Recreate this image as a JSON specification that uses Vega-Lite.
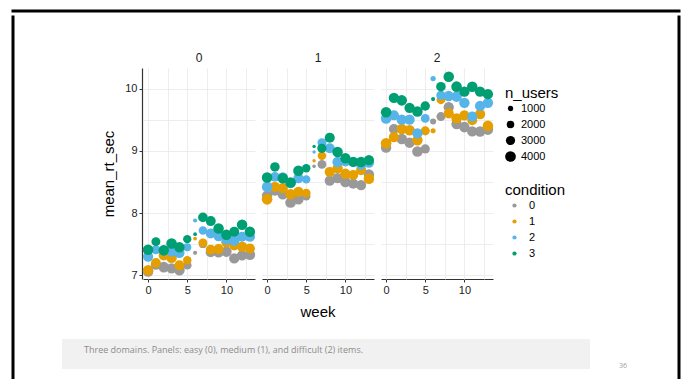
{
  "$schema": "https://vega.github.io/schema/vega-lite/v6.json",
  "background": "white",
  "padding": {"left": 10, "top": 8, "right": 0, "bottom": 0},
  "datasets": {
    "rt": [
      {"domain":"0","condition":"0","week":0,"mean_rt_sec":7.06,"n_users":3900},
      {"domain":"0","condition":"0","week":1,"mean_rt_sec":7.17,"n_users":3700},
      {"domain":"0","condition":"0","week":2,"mean_rt_sec":7.13,"n_users":4000},
      {"domain":"0","condition":"0","week":3,"mean_rt_sec":7.11,"n_users":3800},
      {"domain":"0","condition":"0","week":4,"mean_rt_sec":7.08,"n_users":3900},
      {"domain":"0","condition":"0","week":5,"mean_rt_sec":7.16,"n_users":2600},
      {"domain":"0","condition":"0","week":6,"mean_rt_sec":7.36,"n_users":600},
      {"domain":"0","condition":"0","week":7,"mean_rt_sec":7.50,"n_users":2200},
      {"domain":"0","condition":"0","week":8,"mean_rt_sec":7.37,"n_users":3600},
      {"domain":"0","condition":"0","week":9,"mean_rt_sec":7.37,"n_users":3800},
      {"domain":"0","condition":"0","week":10,"mean_rt_sec":7.38,"n_users":3900},
      {"domain":"0","condition":"0","week":11,"mean_rt_sec":7.27,"n_users":3700},
      {"domain":"0","condition":"0","week":12,"mean_rt_sec":7.32,"n_users":3800},
      {"domain":"0","condition":"0","week":13,"mean_rt_sec":7.33,"n_users":3900},
      {"domain":"0","condition":"1","week":0,"mean_rt_sec":7.08,"n_users":3800},
      {"domain":"0","condition":"1","week":1,"mean_rt_sec":7.20,"n_users":3300},
      {"domain":"0","condition":"1","week":2,"mean_rt_sec":7.32,"n_users":3600},
      {"domain":"0","condition":"1","week":3,"mean_rt_sec":7.28,"n_users":3900},
      {"domain":"0","condition":"1","week":4,"mean_rt_sec":7.16,"n_users":3600},
      {"domain":"0","condition":"1","week":5,"mean_rt_sec":7.24,"n_users":2500},
      {"domain":"0","condition":"1","week":6,"mean_rt_sec":7.59,"n_users":500},
      {"domain":"0","condition":"1","week":7,"mean_rt_sec":7.52,"n_users":2800},
      {"domain":"0","condition":"1","week":8,"mean_rt_sec":7.41,"n_users":3400},
      {"domain":"0","condition":"1","week":9,"mean_rt_sec":7.42,"n_users":3600},
      {"domain":"0","condition":"1","week":10,"mean_rt_sec":7.53,"n_users":3700},
      {"domain":"0","condition":"1","week":11,"mean_rt_sec":7.48,"n_users":3500},
      {"domain":"0","condition":"1","week":12,"mean_rt_sec":7.46,"n_users":3800},
      {"domain":"0","condition":"1","week":13,"mean_rt_sec":7.43,"n_users":3600},
      {"domain":"0","condition":"2","week":0,"mean_rt_sec":7.30,"n_users":3700},
      {"domain":"0","condition":"2","week":1,"mean_rt_sec":7.41,"n_users":3000},
      {"domain":"0","condition":"2","week":2,"mean_rt_sec":7.40,"n_users":3800},
      {"domain":"0","condition":"2","week":3,"mean_rt_sec":7.38,"n_users":3500},
      {"domain":"0","condition":"2","week":4,"mean_rt_sec":7.36,"n_users":3700},
      {"domain":"0","condition":"2","week":5,"mean_rt_sec":7.45,"n_users":2300},
      {"domain":"0","condition":"2","week":6,"mean_rt_sec":7.88,"n_users":600},
      {"domain":"0","condition":"2","week":7,"mean_rt_sec":7.72,"n_users":2600},
      {"domain":"0","condition":"2","week":8,"mean_rt_sec":7.67,"n_users":3500},
      {"domain":"0","condition":"2","week":9,"mean_rt_sec":7.63,"n_users":3700},
      {"domain":"0","condition":"2","week":10,"mean_rt_sec":7.57,"n_users":3600},
      {"domain":"0","condition":"2","week":11,"mean_rt_sec":7.56,"n_users":3900},
      {"domain":"0","condition":"2","week":12,"mean_rt_sec":7.62,"n_users":3500},
      {"domain":"0","condition":"2","week":13,"mean_rt_sec":7.62,"n_users":3700},
      {"domain":"0","condition":"3","week":0,"mean_rt_sec":7.41,"n_users":3900},
      {"domain":"0","condition":"3","week":1,"mean_rt_sec":7.54,"n_users":2800},
      {"domain":"0","condition":"3","week":2,"mean_rt_sec":7.40,"n_users":3900},
      {"domain":"0","condition":"3","week":3,"mean_rt_sec":7.51,"n_users":4000},
      {"domain":"0","condition":"3","week":4,"mean_rt_sec":7.45,"n_users":3800},
      {"domain":"0","condition":"3","week":5,"mean_rt_sec":7.58,"n_users":2400},
      {"domain":"0","condition":"3","week":6,"mean_rt_sec":7.66,"n_users":500},
      {"domain":"0","condition":"3","week":7,"mean_rt_sec":7.93,"n_users":3300},
      {"domain":"0","condition":"3","week":8,"mean_rt_sec":7.87,"n_users":3500},
      {"domain":"0","condition":"3","week":9,"mean_rt_sec":7.75,"n_users":3900},
      {"domain":"0","condition":"3","week":10,"mean_rt_sec":7.65,"n_users":3800},
      {"domain":"0","condition":"3","week":11,"mean_rt_sec":7.70,"n_users":3500},
      {"domain":"0","condition":"3","week":12,"mean_rt_sec":7.81,"n_users":3900},
      {"domain":"0","condition":"3","week":13,"mean_rt_sec":7.70,"n_users":3800},
      {"domain":"1","condition":"0","week":0,"mean_rt_sec":8.28,"n_users":3800},
      {"domain":"1","condition":"0","week":1,"mean_rt_sec":8.36,"n_users":3600},
      {"domain":"1","condition":"0","week":2,"mean_rt_sec":8.30,"n_users":3900},
      {"domain":"1","condition":"0","week":3,"mean_rt_sec":8.17,"n_users":4000},
      {"domain":"1","condition":"0","week":4,"mean_rt_sec":8.22,"n_users":3800},
      {"domain":"1","condition":"0","week":5,"mean_rt_sec":8.27,"n_users":2500},
      {"domain":"1","condition":"0","week":6,"mean_rt_sec":8.75,"n_users":450},
      {"domain":"1","condition":"0","week":7,"mean_rt_sec":8.78,"n_users":2700},
      {"domain":"1","condition":"0","week":8,"mean_rt_sec":8.52,"n_users":3700},
      {"domain":"1","condition":"0","week":9,"mean_rt_sec":8.56,"n_users":3800},
      {"domain":"1","condition":"0","week":10,"mean_rt_sec":8.50,"n_users":3900},
      {"domain":"1","condition":"0","week":11,"mean_rt_sec":8.47,"n_users":3600},
      {"domain":"1","condition":"0","week":12,"mean_rt_sec":8.45,"n_users":3700},
      {"domain":"1","condition":"0","week":13,"mean_rt_sec":8.62,"n_users":3800},
      {"domain":"1","condition":"1","week":0,"mean_rt_sec":8.22,"n_users":4000},
      {"domain":"1","condition":"1","week":1,"mean_rt_sec":8.42,"n_users":3500},
      {"domain":"1","condition":"1","week":2,"mean_rt_sec":8.40,"n_users":3700},
      {"domain":"1","condition":"1","week":3,"mean_rt_sec":8.30,"n_users":3900},
      {"domain":"1","condition":"1","week":4,"mean_rt_sec":8.34,"n_users":3800},
      {"domain":"1","condition":"1","week":5,"mean_rt_sec":8.32,"n_users":2600},
      {"domain":"1","condition":"1","week":6,"mean_rt_sec":8.84,"n_users":400},
      {"domain":"1","condition":"1","week":7,"mean_rt_sec":8.92,"n_users":2500},
      {"domain":"1","condition":"1","week":8,"mean_rt_sec":8.66,"n_users":3600},
      {"domain":"1","condition":"1","week":9,"mean_rt_sec":8.72,"n_users":3700},
      {"domain":"1","condition":"1","week":10,"mean_rt_sec":8.63,"n_users":3800},
      {"domain":"1","condition":"1","week":11,"mean_rt_sec":8.61,"n_users":3500},
      {"domain":"1","condition":"1","week":12,"mean_rt_sec":8.69,"n_users":3600},
      {"domain":"1","condition":"1","week":13,"mean_rt_sec":8.55,"n_users":3900},
      {"domain":"1","condition":"2","week":0,"mean_rt_sec":8.42,"n_users":3900},
      {"domain":"1","condition":"2","week":1,"mean_rt_sec":8.58,"n_users":3300},
      {"domain":"1","condition":"2","week":2,"mean_rt_sec":8.57,"n_users":3800},
      {"domain":"1","condition":"2","week":3,"mean_rt_sec":8.48,"n_users":3600},
      {"domain":"1","condition":"2","week":4,"mean_rt_sec":8.56,"n_users":3700},
      {"domain":"1","condition":"2","week":5,"mean_rt_sec":8.54,"n_users":2400},
      {"domain":"1","condition":"2","week":6,"mean_rt_sec":8.98,"n_users":400},
      {"domain":"1","condition":"2","week":7,"mean_rt_sec":9.13,"n_users":2800},
      {"domain":"1","condition":"2","week":8,"mean_rt_sec":9.04,"n_users":3500},
      {"domain":"1","condition":"2","week":9,"mean_rt_sec":8.82,"n_users":3800},
      {"domain":"1","condition":"2","week":10,"mean_rt_sec":8.83,"n_users":3600},
      {"domain":"1","condition":"2","week":11,"mean_rt_sec":8.82,"n_users":3700},
      {"domain":"1","condition":"2","week":12,"mean_rt_sec":8.77,"n_users":3400},
      {"domain":"1","condition":"2","week":13,"mean_rt_sec":8.81,"n_users":3800},
      {"domain":"1","condition":"3","week":0,"mean_rt_sec":8.57,"n_users":3900},
      {"domain":"1","condition":"3","week":1,"mean_rt_sec":8.74,"n_users":3200},
      {"domain":"1","condition":"3","week":2,"mean_rt_sec":8.56,"n_users":3900},
      {"domain":"1","condition":"3","week":3,"mean_rt_sec":8.49,"n_users":4000},
      {"domain":"1","condition":"3","week":4,"mean_rt_sec":8.68,"n_users":3900},
      {"domain":"1","condition":"3","week":5,"mean_rt_sec":8.72,"n_users":2500},
      {"domain":"1","condition":"3","week":6,"mean_rt_sec":9.07,"n_users":400},
      {"domain":"1","condition":"3","week":7,"mean_rt_sec":9.04,"n_users":3000},
      {"domain":"1","condition":"3","week":8,"mean_rt_sec":9.21,"n_users":3600},
      {"domain":"1","condition":"3","week":9,"mean_rt_sec":8.98,"n_users":3900},
      {"domain":"1","condition":"3","week":10,"mean_rt_sec":8.88,"n_users":3700},
      {"domain":"1","condition":"3","week":11,"mean_rt_sec":8.82,"n_users":3600},
      {"domain":"1","condition":"3","week":12,"mean_rt_sec":8.82,"n_users":3800},
      {"domain":"1","condition":"3","week":13,"mean_rt_sec":8.85,"n_users":3700},
      {"domain":"2","condition":"0","week":0,"mean_rt_sec":9.05,"n_users":3800},
      {"domain":"2","condition":"0","week":1,"mean_rt_sec":9.35,"n_users":3600},
      {"domain":"2","condition":"0","week":2,"mean_rt_sec":9.19,"n_users":3900},
      {"domain":"2","condition":"0","week":3,"mean_rt_sec":9.13,"n_users":3800},
      {"domain":"2","condition":"0","week":4,"mean_rt_sec":8.99,"n_users":3900},
      {"domain":"2","condition":"0","week":5,"mean_rt_sec":9.03,"n_users":3000},
      {"domain":"2","condition":"0","week":6,"mean_rt_sec":9.47,"n_users":1300},
      {"domain":"2","condition":"0","week":7,"mean_rt_sec":9.55,"n_users":2800},
      {"domain":"2","condition":"0","week":8,"mean_rt_sec":9.70,"n_users":3700},
      {"domain":"2","condition":"0","week":9,"mean_rt_sec":9.43,"n_users":3800},
      {"domain":"2","condition":"0","week":10,"mean_rt_sec":9.38,"n_users":3900},
      {"domain":"2","condition":"0","week":11,"mean_rt_sec":9.31,"n_users":3700},
      {"domain":"2","condition":"0","week":12,"mean_rt_sec":9.31,"n_users":3800},
      {"domain":"2","condition":"0","week":13,"mean_rt_sec":9.34,"n_users":3900},
      {"domain":"2","condition":"1","week":0,"mean_rt_sec":9.12,"n_users":4000},
      {"domain":"2","condition":"1","week":1,"mean_rt_sec":9.22,"n_users":3700},
      {"domain":"2","condition":"1","week":2,"mean_rt_sec":9.35,"n_users":3800},
      {"domain":"2","condition":"1","week":3,"mean_rt_sec":9.33,"n_users":3900},
      {"domain":"2","condition":"1","week":4,"mean_rt_sec":9.17,"n_users":3800},
      {"domain":"2","condition":"1","week":5,"mean_rt_sec":9.32,"n_users":2900},
      {"domain":"2","condition":"1","week":6,"mean_rt_sec":9.32,"n_users":900},
      {"domain":"2","condition":"1","week":7,"mean_rt_sec":9.82,"n_users":2700},
      {"domain":"2","condition":"1","week":8,"mean_rt_sec":9.60,"n_users":3600},
      {"domain":"2","condition":"1","week":9,"mean_rt_sec":9.52,"n_users":3800},
      {"domain":"2","condition":"1","week":10,"mean_rt_sec":9.57,"n_users":3700},
      {"domain":"2","condition":"1","week":11,"mean_rt_sec":9.49,"n_users":3500},
      {"domain":"2","condition":"1","week":12,"mean_rt_sec":9.59,"n_users":3700},
      {"domain":"2","condition":"1","week":13,"mean_rt_sec":9.40,"n_users":3900},
      {"domain":"2","condition":"2","week":0,"mean_rt_sec":9.52,"n_users":3900},
      {"domain":"2","condition":"2","week":1,"mean_rt_sec":9.57,"n_users":3600},
      {"domain":"2","condition":"2","week":2,"mean_rt_sec":9.50,"n_users":3800},
      {"domain":"2","condition":"2","week":3,"mean_rt_sec":9.50,"n_users":3700},
      {"domain":"2","condition":"2","week":4,"mean_rt_sec":9.28,"n_users":3800},
      {"domain":"2","condition":"2","week":5,"mean_rt_sec":9.52,"n_users":2700},
      {"domain":"2","condition":"2","week":6,"mean_rt_sec":10.16,"n_users":1000},
      {"domain":"2","condition":"2","week":7,"mean_rt_sec":9.89,"n_users":3000},
      {"domain":"2","condition":"2","week":8,"mean_rt_sec":9.88,"n_users":3700},
      {"domain":"2","condition":"2","week":9,"mean_rt_sec":9.87,"n_users":3900},
      {"domain":"2","condition":"2","week":10,"mean_rt_sec":9.77,"n_users":3800},
      {"domain":"2","condition":"2","week":11,"mean_rt_sec":9.55,"n_users":3600},
      {"domain":"2","condition":"2","week":12,"mean_rt_sec":9.72,"n_users":3700},
      {"domain":"2","condition":"2","week":13,"mean_rt_sec":9.77,"n_users":3800},
      {"domain":"2","condition":"3","week":0,"mean_rt_sec":9.62,"n_users":3900},
      {"domain":"2","condition":"3","week":1,"mean_rt_sec":9.85,"n_users":3800},
      {"domain":"2","condition":"3","week":2,"mean_rt_sec":9.81,"n_users":3900},
      {"domain":"2","condition":"3","week":3,"mean_rt_sec":9.69,"n_users":3800},
      {"domain":"2","condition":"3","week":4,"mean_rt_sec":9.63,"n_users":3900},
      {"domain":"2","condition":"3","week":5,"mean_rt_sec":9.72,"n_users":3100},
      {"domain":"2","condition":"3","week":6,"mean_rt_sec":9.83,"n_users":600},
      {"domain":"2","condition":"3","week":7,"mean_rt_sec":10.03,"n_users":3200},
      {"domain":"2","condition":"3","week":8,"mean_rt_sec":10.19,"n_users":3900},
      {"domain":"2","condition":"3","week":9,"mean_rt_sec":10.03,"n_users":4000},
      {"domain":"2","condition":"3","week":10,"mean_rt_sec":9.95,"n_users":3800},
      {"domain":"2","condition":"3","week":11,"mean_rt_sec":10.03,"n_users":3900},
      {"domain":"2","condition":"3","week":12,"mean_rt_sec":9.95,"n_users":3800},
      {"domain":"2","condition":"3","week":13,"mean_rt_sec":9.91,"n_users":3700}
    ]
  },
  "spacing": 0,
  "resolve": {"scale": {"color": "independent", "size": "independent"}, "legend": {"color": "independent", "size": "independent"}},
  "vconcat": [
    {
      "description": "Slide frame, top edge",
      "width": 666,
      "height": 1,
      "view": {"stroke": null},
      "data": {"values": [{"pos": 1}]},
      "mark": {"type": "rule", "color": "#000000", "strokeWidth": 3, "strokeCap": "square"},
      "encoding": {"y": {"field": "pos", "type": "quantitative", "scale": {"domain": [0, 1], "nice": false, "zero": false}, "axis": null}}
    },
    {
      "spacing": 46,
      "resolve": {"scale": {"color": "independent", "size": "independent"}, "legend": {"color": "independent", "size": "independent"}},
      "hconcat": [
        {
          "description": "Slide frame, left edge",
          "width": 1,
          "height": 363,
          "view": {"stroke": null},
          "data": {"values": [{"pos": 0}]},
          "mark": {"type": "rule", "color": "#000000", "strokeWidth": 3, "strokeCap": "square"},
          "encoding": {"x": {"field": "pos", "type": "quantitative", "scale": {"domain": [0, 1], "nice": false, "zero": false}, "axis": null}}
        },
        {
          "spacing": 19,
          "resolve": {"scale": {"color": "independent", "size": "independent"}, "legend": {"color": "independent", "size": "independent"}},
          "vconcat": [
            {"width": 1, "height": 16, "view": {"stroke": null}, "data": {"values": []}, "mark": "point"},
            {
              "spacing": 38,
              "resolve": {"scale": {"color": "independent", "size": "independent"}, "legend": {"color": "independent", "size": "independent"}},
              "hconcat": [
                {"width": 1, "height": 1, "view": {"stroke": null}, "data": {"values": []}, "mark": "point"},
                {
                  "data": {"name": "rt"},
                  "facet": {
                    "column": {
                      "field": "domain",
                      "type": "ordinal",
                      "title": "week",
                      "header": {
                        "labelOrient": "top",
                        "labelFontSize": 12,
                        "labelColor": "#1a1a1a",
                        "labelPadding": 3,
                        "titleOrient": "bottom",
                        "titleFontSize": 15,
                        "titleFontWeight": "normal",
                        "titleColor": "#000000",
                        "titlePadding": 0
                      }
                    }
                  },
                  "spacing": {"column": 5},
                  "spec": {
                    "width": 112,
                    "height": 211,
                    "mark": {"type": "circle", "opacity": 1},
                    "encoding": {
                      "x": {
                        "field": "week",
                        "type": "quantitative",
                        "scale": {"domain": [-0.65, 13.65], "nice": false, "zero": false},
                        "axis": {
                          "title": null,
                          "values": [0, 2.5, 5, 7.5, 10, 12.5],
                          "labelExpr": "datum.value % 5 === 0 ? format(datum.value, 'd') : ''",
                          "tickOpacity": {"condition": {"test": "datum.value % 5 !== 0", "value": 0}, "value": 1},
                          "labelFlush": false,
                          "labelPadding": 2
                        }
                      },
                      "y": {
                        "field": "mean_rt_sec",
                        "type": "quantitative",
                        "scale": {"domain": [6.94, 10.33], "nice": false, "zero": false},
                        "axis": {
                          "title": "mean_rt_sec",
                          "values": [7, 7.5, 8, 8.5, 9, 9.5, 10],
                          "labelExpr": "datum.value % 1 === 0 ? format(datum.value, 'd') : ''",
                          "tickOpacity": {"condition": {"test": "datum.value % 1 !== 0", "value": 0}, "value": 1},
                          "labelPadding": 2,
                          "titlePadding": 8
                        }
                      },
                      "size": {
                        "field": "n_users",
                        "type": "quantitative",
                        "scale": {"domain": [0, 4000], "range": [0, 114]},
                        "legend": {
                          "title": "n_users",
                          "values": [1000, 2000, 3000, 4000],
                          "format": "d",
                          "orient": "none",
                          "legendX": 362,
                          "legendY": 18,
                          "symbolFillColor": "#000000",
                          "symbolStrokeWidth": 0,
                          "symbolOpacity": 1,
                          "labelOffset": 5,
                          "rowPadding": 4
                        }
                      },
                      "color": {
                        "field": "condition",
                        "type": "nominal",
                        "scale": {"domain": ["0", "1", "2", "3"], "range": ["#999999", "#E69F00", "#56B4E9", "#009E73"]},
                        "legend": {
                          "title": "condition",
                          "orient": "none",
                          "legendX": 362,
                          "legendY": 115,
                          "symbolSize": 18,
                          "symbolType": "circle",
                          "symbolStrokeWidth": 0,
                          "symbolOffset": 4,
                          "labelOffset": 9,
                          "rowPadding": 4
                        }
                      }
                    }
                  }
                }
              ]
            },
            {
              "spacing": 26,
              "hconcat": [
                {
                  "description": "Caption box",
                  "width": 528,
                  "height": 30,
                  "view": {"stroke": null, "fill": "#f1f1f1"},
                  "title": {
                    "text": "Three domains. Panels: easy (0), medium (1), and difficult (2) items.",
                    "anchor": "start",
                    "orient": "top",
                    "offset": -16,
                    "dx": 22,
                    "font": "Open Sans",
                    "fontSize": 9,
                    "fontWeight": "normal",
                    "color": "#8c8c8c"
                  },
                  "data": {"values": []},
                  "mark": "point"
                },
                {
                  "description": "Slide number",
                  "width": 14,
                  "height": 30,
                  "view": {"stroke": null},
                  "data": {"values": [{"page": "36"}]},
                  "mark": {"type": "text", "font": "Open Sans", "fontSize": 7, "color": "#a0a0a0", "dy": 12},
                  "encoding": {"text": {"field": "page"}}
                }
              ]
            }
          ]
        },
        {
          "description": "Slide frame, right edge",
          "width": 1,
          "height": 363,
          "view": {"stroke": null},
          "data": {"values": [{"pos": 0}]},
          "mark": {"type": "rule", "color": "#000000", "strokeWidth": 3, "strokeCap": "square"},
          "encoding": {"x": {"field": "pos", "type": "quantitative", "scale": {"domain": [0, 1], "nice": false, "zero": false}, "axis": null}}
        }
      ]
    }
  ],
  "config": {
    "font": "Liberation Sans",
    "view": {"stroke": null},
    "axis": {
      "labelFont": "Liberation Sans",
      "labelFontSize": 11,
      "labelColor": "#222222",
      "titleFont": "Liberation Sans",
      "titleFontSize": 15,
      "titleFontWeight": "normal",
      "titleColor": "#000000",
      "gridColor": "#e8e8e8",
      "gridWidth": 0.8,
      "domainColor": "#333333",
      "domainWidth": 1.2,
      "tickColor": "#333333",
      "tickSize": 3
    },
    "legend": {
      "titleFont": "Liberation Sans",
      "titleFontSize": 15,
      "titleFontWeight": "normal",
      "titleColor": "#000000",
      "titlePadding": 2,
      "labelFont": "Liberation Sans",
      "labelFontSize": 11,
      "labelColor": "#000000"
    }
  }
}
